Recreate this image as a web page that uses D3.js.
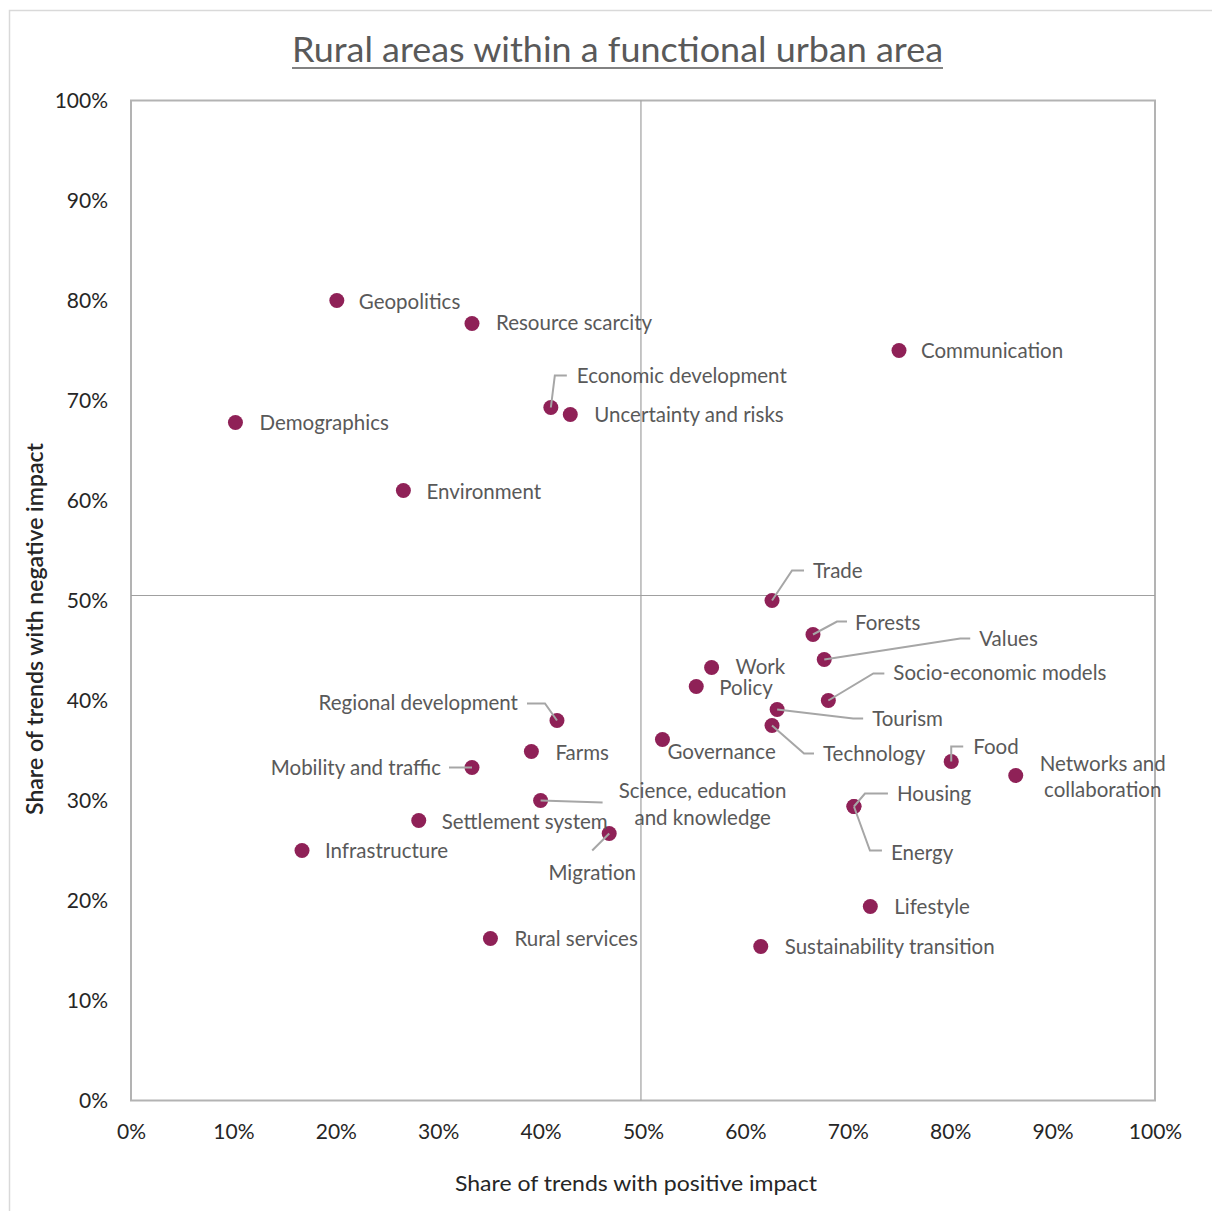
<!DOCTYPE html>
<html>
<head>
<meta charset="utf-8">
<script src="https://cdn.jsdelivr.net/npm/d3@7"></script>
<style>
  html, body { margin: 0; padding: 0; background: #fff; }
  svg { display: block; }
  text { font-family: Lato, "Noto Sans", sans-serif; }
</style>
</head>
<body>
<svg id="chart" width="1212" height="1211"></svg>
<script>
// ---- data ----
const trends = [
  "Geopolitics", "Resource scarcity", "Communication", "Economic development",
  "Uncertainty and risks", "Demographics", "Environment", "Trade", "Forests",
  "Values", "Work", "Policy", "Socio-economic models", "Regional development",
  "Tourism", "Technology", "Governance", "Farms", "Mobility and traffic", "Food",
  "Networks and collaboration", "Science, education and knowledge", "Housing",
  "Energy", "Settlement system", "Migration", "Infrastructure", "Lifestyle",
  "Rural services", "Sustainability transition"
];
const positiveShare = [
  20.1, 33.3, 75.0, 41.0,
  42.9, 10.2, 26.6, 62.6, 66.6,
  67.7, 56.7, 55.2, 68.1, 41.6,
  63.1, 62.6, 51.9, 39.1, 33.3, 80.1,
  86.4, 40.0, 70.6,
  70.6, 28.1, 46.7, 16.7, 72.2,
  35.1, 61.5
];
const negativeShare = [
  80.0, 77.7, 75.0, 69.3,
  68.6, 67.8, 61.0, 50.0, 46.6,
  44.1, 43.3, 41.4, 40.0, 38.0,
  39.1, 37.5, 36.1, 34.9, 33.3, 33.9,
  32.5, 30.0, 29.4,
  29.4, 28.0, 26.7, 25.0, 19.4,
  16.2, 15.4
];
const xTicks = [0, 10, 20, 30, 40, 50, 60, 70, 80, 90, 100];
const yTicks = [0, 10, 20, 30, 40, 50, 60, 70, 80, 90, 100];
const titleText = "Rural areas within a functional urban area";
const xTitle = "Share of trends with positive impact";
const yTitle = "Share of trends with negative impact";
const quadrantX = 49.8, quadrantY = 50.5;

// ---- label layout (pixel offsets from the point) ----
const labelLayout = {
  "Geopolitics": {dx: 22, dy: 1},
  "Resource scarcity": {dx: 24, dy: -1},
  "Communication": {dx: 22, dy: 0},
  "Economic development": {dx: 26, dy: -32, leader: [[4, -32], [16, -32]]},
  "Uncertainty and risks": {dx: 24, dy: 0},
  "Demographics": {dx: 24, dy: 0},
  "Environment": {dx: 23, dy: 1},
  "Trade": {dx: 41, dy: -30, leader: [[20, -30], [32, -30]]},
  "Forests": {dx: 42, dy: -12, leader: [[24, -13], [34, -13]]},
  "Values": {dx: 155, dy: -21, leader: [[136, -21], [146, -21]]},
  "Work": {dx: 24, dy: -1},
  "Policy": {dx: 23, dy: 1},
  "Socio-economic models": {dx: 65, dy: -28, leader: [[45, -27], [56, -27]]},
  "Regional development": {dx: -39, dy: -18, anchor: "end", leader: [[-12, -17], [-30, -17]]},
  "Tourism": {dx: 95, dy: 9, leader: [[76, 9], [86, 9]]},
  "Technology": {dx: 51, dy: 28, leader: [[32, 28], [42, 28]]},
  "Governance": {dx: 5, dy: 12},
  "Farms": {dx: 24, dy: 1},
  "Mobility and traffic": {dx: -31, dy: 0, anchor: "end", leader: [[-23, 0]]},
  "Food": {dx: 22, dy: -15, leader: [[0, -15], [12, -15]]},
  "Networks and collaboration": {dx: 87, dy: -12, anchor: "middle", lines: ["Networks and", "collaboration"], lineGap: 26},
  "Science, education and knowledge": {dx: 162, dy: -10, anchor: "middle", lines: ["Science, education", "and knowledge"], lineGap: 27, leader: [[62, 2]]},
  "Housing": {dx: 43, dy: -13, leader: [[11, -13], [34, -13]]},
  "Energy": {dx: 37, dy: 46, leader: [[16, 44], [28, 44]]},
  "Settlement system": {dx: 23, dy: 1},
  "Migration": {dx: -17, dy: 39, anchor: "middle", leader: [[-17, 17]]},
  "Infrastructure": {dx: 23, dy: 0},
  "Lifestyle": {dx: 24, dy: 0},
  "Rural services": {dx: 24, dy: 0},
  "Sustainability transition": {dx: 24, dy: 0}
};

// ---- drawing ----
const svg = d3.select("#chart");
const W = 1212, H = 1211;
const plot = {left: 131, right: 1155, top: 100.5, bottom: 1100.5};
const labelSize = 20.5;

const x = d3.scaleLinear().domain([0, 100]).range([plot.left, plot.right]);
const y = d3.scaleLinear().domain([0, 100]).range([plot.bottom, plot.top]);

const points = trends.map((name, i) => ({name, px: positiveShare[i], ny: negativeShare[i]}));

// outer border
svg.append("rect")
  .attr("x", 9.5).attr("y", 10.5).attr("width", W).attr("height", H)
  .attr("fill", "#fff").attr("stroke", "#d9d9d9").attr("stroke-width", 1.5);

// title with underline
svg.append("text")
  .attr("x", 292).attr("y", 62)
  .attr("font-size", 34)
  .attr("fill", "#595959")
  .attr("textLength", 651)
  .attr("lengthAdjust", "spacingAndGlyphs")
  .text(titleText);
svg.append("line")
  .attr("x1", 292).attr("x2", 943)
  .attr("y1", 68).attr("y2", 68)
  .attr("stroke", "#595959").attr("stroke-width", 1.6);

// plot frame
svg.append("rect")
  .attr("x", plot.left).attr("y", plot.top)
  .attr("width", plot.right - plot.left).attr("height", plot.bottom - plot.top)
  .attr("fill", "none").attr("stroke", "#b3b3b3").attr("stroke-width", 2);

// quadrant lines
svg.append("line")
  .attr("x1", x(quadrantX)).attr("x2", x(quadrantX))
  .attr("y1", plot.top).attr("y2", plot.bottom)
  .attr("stroke", "#a0a0a0").attr("stroke-width", 1.2);
svg.append("line")
  .attr("x1", plot.left).attr("x2", plot.right)
  .attr("y1", y(quadrantY)).attr("y2", y(quadrantY))
  .attr("stroke", "#a0a0a0").attr("stroke-width", 1.2);

// axes
const xAxis = d3.axisBottom(x).tickValues(xTicks).tickSize(0).tickPadding(24)
  .tickFormat(d => d + "%");
const yAxis = d3.axisLeft(y).tickValues(yTicks).tickSize(0).tickPadding(23)
  .tickFormat(d => d + "%");

const gx = svg.append("g").attr("transform", `translate(0,${plot.bottom})`).call(xAxis);
const gy = svg.append("g").attr("transform", `translate(${plot.left},0)`).call(yAxis);
[gx, gy].forEach(g => {
  g.select(".domain").remove();
  g.selectAll("text")
    .attr("font-family", "Lato, 'Noto Sans', sans-serif")
    .attr("font-size", 21)
    .attr("fill", "#262626");
});

// axis titles
svg.append("text")
  .attr("x", 455).attr("y", 1191)
  .attr("font-size", 22)
  .attr("fill", "#262626")
  .attr("textLength", 362)
  .attr("lengthAdjust", "spacingAndGlyphs")
  .text(xTitle);
svg.append("text")
  .attr("transform", `translate(43,815) rotate(-90)`)
  .attr("font-size", 22)
  .attr("font-weight", 600)
  .attr("fill", "#262626")
  .attr("textLength", 372)
  .attr("lengthAdjust", "spacingAndGlyphs")
  .text(yTitle);

// dots
svg.append("g").selectAll("circle")
  .data(points).join("circle")
  .attr("cx", d => x(d.px)).attr("cy", d => y(d.ny))
  .attr("r", 7.5)
  .attr("fill", "#8f2157");

// leader lines
svg.append("g").selectAll("path")
  .data(points.filter(d => labelLayout[d.name].leader))
  .join("path")
  .attr("d", d => {
    const cx = x(d.px), cy = y(d.ny);
    const pts = [[cx, cy]].concat(labelLayout[d.name].leader.map(p => [cx + p[0], cy + p[1]]));
    return d3.line()(pts);
  })
  .attr("fill", "none")
  .attr("stroke", "#a6a6a6")
  .attr("stroke-width", 2);

// labels
const lg = svg.append("g");
points.forEach(d => {
  const L = labelLayout[d.name];
  const cx = x(d.px), cy = y(d.ny);
  const t = lg.append("text")
    .attr("x", cx + L.dx)
    .attr("y", cy + L.dy)
    .attr("dy", "0.35em")
    .attr("text-anchor", L.anchor || "start")
    .attr("font-size", labelSize)
    .attr("fill", "#595959");
  if (L.lines) {
    L.lines.forEach((ln, i) => {
      t.append("tspan")
        .attr("x", cx + L.dx)
        .attr("y", cy + L.dy + i * L.lineGap)
        .attr("dy", "0.35em")
        .text(ln);
    });
  } else {
    t.text(d.name);
  }
});
</script>
</body>
</html>
